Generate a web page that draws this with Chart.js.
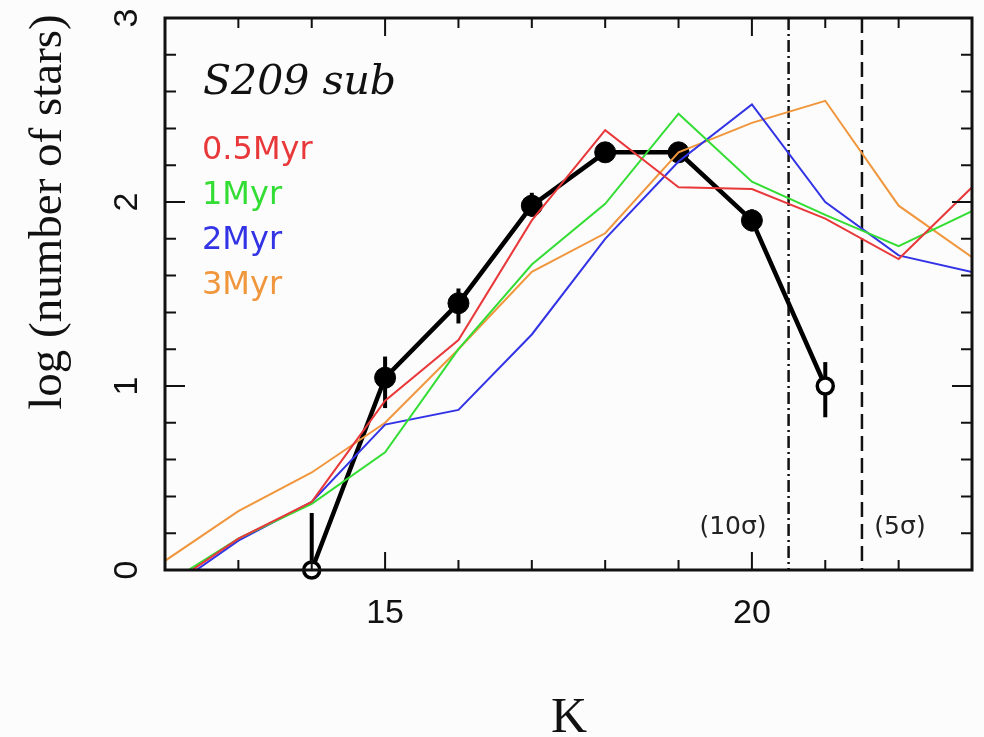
<!DOCTYPE html>
<html>
<head>
<meta charset="utf-8">
<script src="https://cdn.jsdelivr.net/npm/chart.js@4.4.1/dist/chart.umd.min.js"></script>
<style>
  body { margin: 0; background: #fcfcfc; }
</style>
</head>
<body>
<canvas id="myChart" width="984" height="737"></canvas>
<script>
// K magnitude bins
const kMag = [12, 13, 14, 15, 16, 17, 18, 19, 20, 21, 22, 23]
// model luminosity functions, log N
const myr05 = [-0.10, 0.17, 0.37, 0.92, 1.25, 1.90, 2.39, 2.08, 2.07, 1.91, 1.69, 2.08]
const myr1 = [-0.08, 0.17, 0.36, 0.64, 1.20, 1.66, 1.99, 2.48, 2.11, 1.93, 1.76, 1.95]
const myr2 = [-0.12, 0.16, 0.37, 0.79, 0.87, 1.28, 1.80, 2.22, 2.53, 2.00, 1.71, 1.62]
const myr3 = [0.05, 0.32, 0.53, 0.80, 1.20, 1.62, 1.83, 2.27, 2.43, 2.55, 1.98, 1.70]

// observed S209 sub counts
const obsK = [14, 15, 16, 17, 18, 19, 20, 21]
const obsN = [0, 1.045, 1.45, 1.98, 2.27, 2.27, 1.90, 1.00]
const obsLo = [-0.3, 0.88, 1.34, 1.92, 2.22, 2.22, 1.84, 0.83]
const obsHi = [0.31, 1.16, 1.53, 2.05, 2.32, 2.32, 1.96, 1.13]
const obsOpen = [true, false, false, false, false, false, false, true]

const limit10 = 20.5
const limit5 = 21.5
const xTickLabels = [15, 20]
const yTickLabels = [0, 1, 2, 3]

const modelNames = ['0.5Myr', '1Myr', '2Myr', '3Myr']
const modelColors = ['#e8383a', '#33dd33', '#3333e6', '#f0963c']
const modelData = [myr05, myr1, myr2, myr3]

function pts(xs, ys) {
  return xs.map((v, i) => ({ x: v, y: ys[i] }))
}

const decor = {
  id: 'decor',
  beforeDatasetsDraw(chart) {
    const ctx = chart.ctx
    const a = chart.chartArea
    const x = chart.scales.x
    const y = chart.scales.y
    ctx.save()
    ctx.beginPath()
    ctx.rect(a.left, a.top, a.right - a.left, a.bottom - a.top)
    ctx.clip()
    ctx.strokeStyle = '#111'
    ctx.lineWidth = 2.5

    ctx.setLineDash([12, 4, 2, 4])
    let px = x.getPixelForValue(limit10)
    ctx.beginPath()
    ctx.moveTo(px, a.top)
    ctx.lineTo(px, a.bottom)
    ctx.stroke()

    ctx.setLineDash([15, 7])
    px = x.getPixelForValue(limit5)
    ctx.beginPath()
    ctx.moveTo(px, a.top)
    ctx.lineTo(px, a.bottom)
    ctx.stroke()

    // error bars
    ctx.setLineDash([])
    ctx.lineWidth = 4
    ctx.strokeStyle = '#000'
    for (let i = 0; i < obsK.length; i++) {
      const bx = x.getPixelForValue(obsK[i])
      ctx.beginPath()
      ctx.moveTo(bx, y.getPixelForValue(obsLo[i]))
      ctx.lineTo(bx, y.getPixelForValue(obsHi[i]))
      ctx.stroke()
    }
    ctx.restore()
  },
  afterDraw(chart) {
    const ctx = chart.ctx
    const a = chart.chartArea
    const x = chart.scales.x
    const y = chart.scales.y
    ctx.save()
    ctx.strokeStyle = '#111'
    ctx.lineWidth = 2

    // minor / major ticks on all four sides
    ctx.beginPath()
    for (let k = 13; k <= 22; k++) {
      const px = x.getPixelForValue(k)
      const len = k % 5 === 0 ? 18 : 10
      ctx.moveTo(px, a.bottom)
      ctx.lineTo(px, a.bottom - len)
      ctx.moveTo(px, a.top)
      ctx.lineTo(px, a.top + len)
    }
    for (let j = 1; j < 15; j++) {
      const v = j / 5
      const py = y.getPixelForValue(v)
      const len = j % 5 === 0 ? 20 : 11
      ctx.moveTo(a.left, py)
      ctx.lineTo(a.left + len, py)
      ctx.moveTo(a.right, py)
      ctx.lineTo(a.right - len, py)
    }
    ctx.stroke()

    ctx.lineWidth = 3
    ctx.strokeRect(a.left, a.top, a.right - a.left, a.bottom - a.top)

    // tick labels
    ctx.fillStyle = '#111'
    ctx.font = '34px "Liberation Sans"'
    ctx.textAlign = 'center'
    ctx.textBaseline = 'alphabetic'
    xTickLabels.forEach(v => {
      ctx.fillText(String(v), x.getPixelForValue(v), 623)
    })
    yTickLabels.forEach(v => {
      ctx.save()
      ctx.translate(137, y.getPixelForValue(v))
      ctx.rotate(-Math.PI / 2)
      ctx.fillText(String(v), 0, 0)
      ctx.restore()
    })

    // axis titles
    ctx.font = '47px "Liberation Serif"'
    ctx.save()
    ctx.translate(61, 212)
    ctx.rotate(-Math.PI / 2)
    ctx.fillText('log (number of stars)', 0, 0)
    ctx.restore()
    ctx.font = '50px "Liberation Serif"'
    ctx.fillText('K', 569, 732)

    // in-plot labels
    ctx.textAlign = 'left'
    ctx.font = 'italic 41px "DejaVu Serif"'
    ctx.fillText('S209 sub', 203, 94)

    ctx.font = '32px "DejaVu Sans"'
    modelNames.forEach((n, i) => {
      ctx.fillStyle = modelColors[i]
      ctx.fillText(n, 202, 159 + i * 45)
    })

    ctx.fillStyle = '#222'
    ctx.font = '25px "DejaVu Sans"'
    ctx.textAlign = 'center'
    ctx.fillText('(10σ)', 733, 534)
    ctx.fillText('(5σ)', 900, 534)
    ctx.restore()
  }
}

const datasets = modelNames.map((n, i) => ({
  label: n,
  data: pts(kMag, modelData[i]),
  borderColor: modelColors[i],
  borderWidth: 2,
  pointRadius: 0,
  tension: 0
}))

datasets.push({
  label: 'S209 sub',
  data: pts(obsK, obsN),
  borderColor: '#000',
  borderWidth: 4.5,
  pointRadius: obsOpen.map(o => o ? 8 : 10.5),
  pointBackgroundColor: obsOpen.map(o => o ? '#fff' : '#000'),
  pointBorderColor: '#000',
  pointBorderWidth: obsOpen.map(o => o ? 3.5 : 1),
  tension: 0,
  clip: false
})

const ctx = document.getElementById('myChart')
new Chart(ctx, {
  type: 'line',
  data: { datasets: datasets },
  options: {
    responsive: false,
    animation: false,
    layout: { padding: { left: 165, right: 12, top: 18, bottom: 167 } },
    scales: {
      x: { type: 'linear', min: 12, max: 23, display: false },
      y: { type: 'linear', min: 0, max: 3, display: false }
    },
    plugins: {
      legend: { display: false },
      tooltip: { enabled: false }
    }
  },
  plugins: [decor]
})
</script>
</body>
</html>
